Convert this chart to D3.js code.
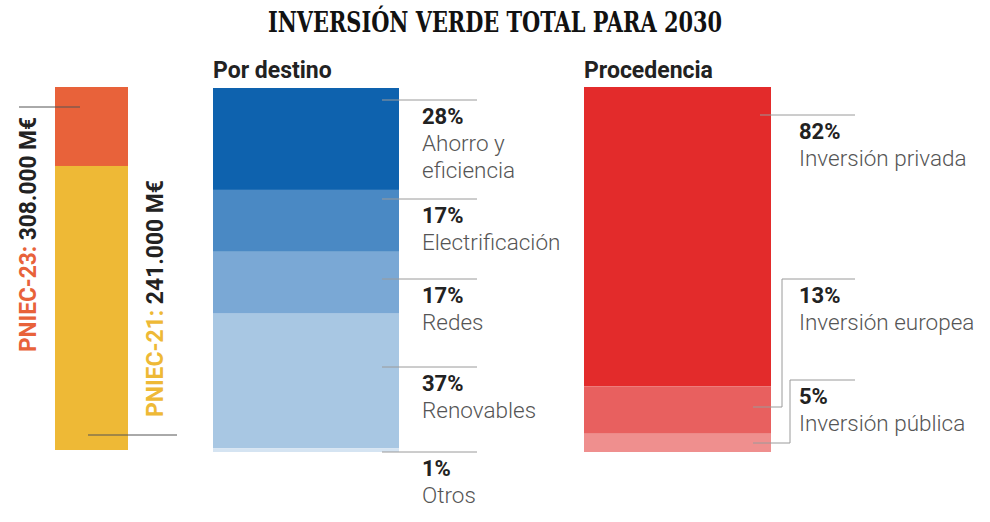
<!DOCTYPE html>
<html>
<head>
<meta charset="utf-8">
<script src="https://cdn.jsdelivr.net/npm/d3@7"></script>
<style>
  html, body { margin: 0; padding: 0; background: #fff; }
  svg { display: block; }
</style>
</head>
<body>
<svg id="chart" width="990" height="522"></svg>
<script>
// ---------- DATA ----------
const titleText = "INVERSIÓN VERDE TOTAL PARA 2030";

const pniecLabels = ["PNIEC-23", "PNIEC-21"];
const pniecValues = [308000, 241000];
const pniecValueLabels = ["308.000 M€", "241.000 M€"];

const destinoTitle = "Por destino";
const destinoCats = ["Ahorro y eficiencia", "Electrificación", "Redes", "Renovables", "Otros"];
const destinoLines = [["Ahorro y", "eficiencia"], ["Electrificación"], ["Redes"], ["Renovables"], ["Otros"]];
const destinoValues = [28, 17, 17, 37, 1];

const procTitle = "Procedencia";
const procCats = ["Inversión privada", "Inversión europea", "Inversión pública"];
const procValues = [82, 13, 5];

// ---------- STYLE / LAYOUT ----------
const pniecColors = ["#E8623A", "#EEB936"];
const destinoColors = ["#0E62AE", "#4A89C4", "#7AA8D5", "#A8C7E3", "#D5E4F2"];
const procColors = ["#E32B2B", "#E8605F", "#EF8F8E"];
const lineColor = "#9a9a9a";
const darkText = "#222";
const lightText = "#555";
const labelFont = "Roboto, 'Noto Sans', sans-serif";

const svg = d3.select("#chart");

// Title
svg.append("text")
  .attr("x", 495).attr("y", 32)
  .attr("text-anchor", "middle")
  .attr("font-family", "'DejaVu Serif', 'Liberation Serif', serif")
  .attr("font-weight", "bold")
  .attr("font-size", 27)
  .attr("textLength", 454)
  .attr("lengthAdjust", "spacingAndGlyphs")
  .attr("fill", "#111")
  .text(titleText);

// ---------- LEFT: PNIEC bars ----------
const yP = d3.scaleLinear().domain([0, d3.max(pniecValues)]).range([450, 87]);
const xP = { x: 55, w: 73 };
svg.append("g").selectAll("rect")
  .data(pniecValues)
  .join("rect")
  .attr("x", xP.x)
  .attr("width", xP.w)
  .attr("y", d => yP(d))
  .attr("height", d => yP(0) - yP(d))
  .attr("fill", (d, i) => pniecColors[i]);

// leader lines for PNIEC
const pLeaders = [
  { x1: 19, x2: 80, y: 107 },
  { x1: 88, x2: 177, y: 435 }
];
svg.append("g").selectAll("line")
  .data(pLeaders)
  .join("line")
  .attr("x1", d => d.x1).attr("x2", d => d.x2)
  .attr("y1", d => d.y).attr("y2", d => d.y)
  .attr("stroke", "#555").attr("stroke-width", 1);

// rotated labels
const pLabelPos = [
  { x: 36, y: 352, len: 235 },
  { x: 163, y: 417, len: 237 }
];
pniecLabels.forEach((lab, i) => {
  const t = svg.append("text")
    .attr("transform", `translate(${pLabelPos[i].x},${pLabelPos[i].y}) rotate(-90)`)
    .attr("font-family", labelFont)
    .attr("font-weight", "bold")
    .attr("font-size", 24)
    .attr("textLength", pLabelPos[i].len)
    .attr("lengthAdjust", "spacingAndGlyphs");
  t.append("tspan").attr("fill", pniecColors[i]).text(lab + ":");
  t.append("tspan").attr("fill", darkText).text(" " + pniecValueLabels[i]);
});

// ---------- MIDDLE: Por destino ----------
const mid = { x: 213, w: 186, top: 88, bottom: 452 };
const yD = d3.scaleLinear().domain([0, d3.sum(destinoValues)]).range([mid.top, mid.bottom]);
const destStarts = destinoValues.map((d, i) => d3.sum(destinoValues.slice(0, i)));

svg.append("text")
  .attr("x", mid.x).attr("y", 78)
  .attr("font-family", labelFont)
  .attr("font-weight", "bold")
  .attr("font-size", 23)
  .attr("fill", darkText)
  .text(destinoTitle);

svg.append("g").selectAll("rect")
  .data(destinoValues)
  .join("rect")
  .attr("x", mid.x)
  .attr("width", mid.w)
  .attr("y", (d, i) => yD(destStarts[i]))
  .attr("height", d => yD(d) - yD(0))
  .attr("fill", (d, i) => destinoColors[i]);

const destLabelY = [100, 199, 279, 367, 452];
const dl = svg.append("g");
destinoValues.forEach((v, i) => {
  const y = destLabelY[i];
  dl.append("line")
    .attr("x1", 382).attr("x2", 477)
    .attr("y1", y).attr("y2", y)
    .attr("stroke", lineColor).attr("stroke-width", 1);
  dl.append("text")
    .attr("x", 422).attr("y", y + 24)
    .attr("font-family", labelFont)
    .attr("font-weight", "bold")
    .attr("font-size", 22)
    .attr("fill", darkText)
    .text(v + "%");
  destinoLines[i].forEach((ln, j) => {
    dl.append("text")
      .attr("x", 422).attr("y", y + 51 + j * 27)
      .attr("font-family", labelFont)
      .attr("font-weight", 300)
      .attr("font-size", 22.5)
      .attr("fill", lightText)
      .text(ln);
  });
});

// ---------- RIGHT: Procedencia ----------
const rgt = { x: 584, w: 187, top: 87, bottom: 452 };
const yR = d3.scaleLinear().domain([0, d3.sum(procValues)]).range([rgt.top, rgt.bottom]);
const procStarts = procValues.map((d, i) => d3.sum(procValues.slice(0, i)));

svg.append("text")
  .attr("x", rgt.x).attr("y", 78)
  .attr("font-family", labelFont)
  .attr("font-weight", "bold")
  .attr("font-size", 23)
  .attr("fill", darkText)
  .text(procTitle);

svg.append("g").selectAll("rect")
  .data(procValues)
  .join("rect")
  .attr("x", rgt.x)
  .attr("width", rgt.w)
  .attr("y", (d, i) => yR(procStarts[i]))
  .attr("height", d => yR(d) - yR(0))
  .attr("fill", (d, i) => procColors[i]);

// leader paths: label line y, elbow x, bar-side y
const procLeaders = [
  { ly: 115, ex: null, by: 115 },
  { ly: 279, ex: 782, by: 407 },
  { ly: 380, ex: 790, by: 443 }
];
const pl = svg.append("g");
procValues.forEach((v, i) => {
  const L = procLeaders[i];
  const path = L.ex === null
    ? `M760,${L.ly}H855`
    : `M753,${L.by}H${L.ex}V${L.ly}H855`;
  pl.append("path").attr("d", path)
    .attr("fill", "none").attr("stroke", lineColor).attr("stroke-width", 1);
  pl.append("text")
    .attr("x", 799).attr("y", L.ly + 24)
    .attr("font-family", labelFont)
    .attr("font-weight", "bold")
    .attr("font-size", 22)
    .attr("fill", darkText)
    .text(v + "%");
  pl.append("text")
    .attr("x", 799).attr("y", L.ly + 51)
    .attr("font-family", labelFont)
    .attr("font-weight", 300)
    .attr("font-size", 22.5)
    .attr("fill", lightText)
    .text(procCats[i]);
});
</script>
</body>
</html>
